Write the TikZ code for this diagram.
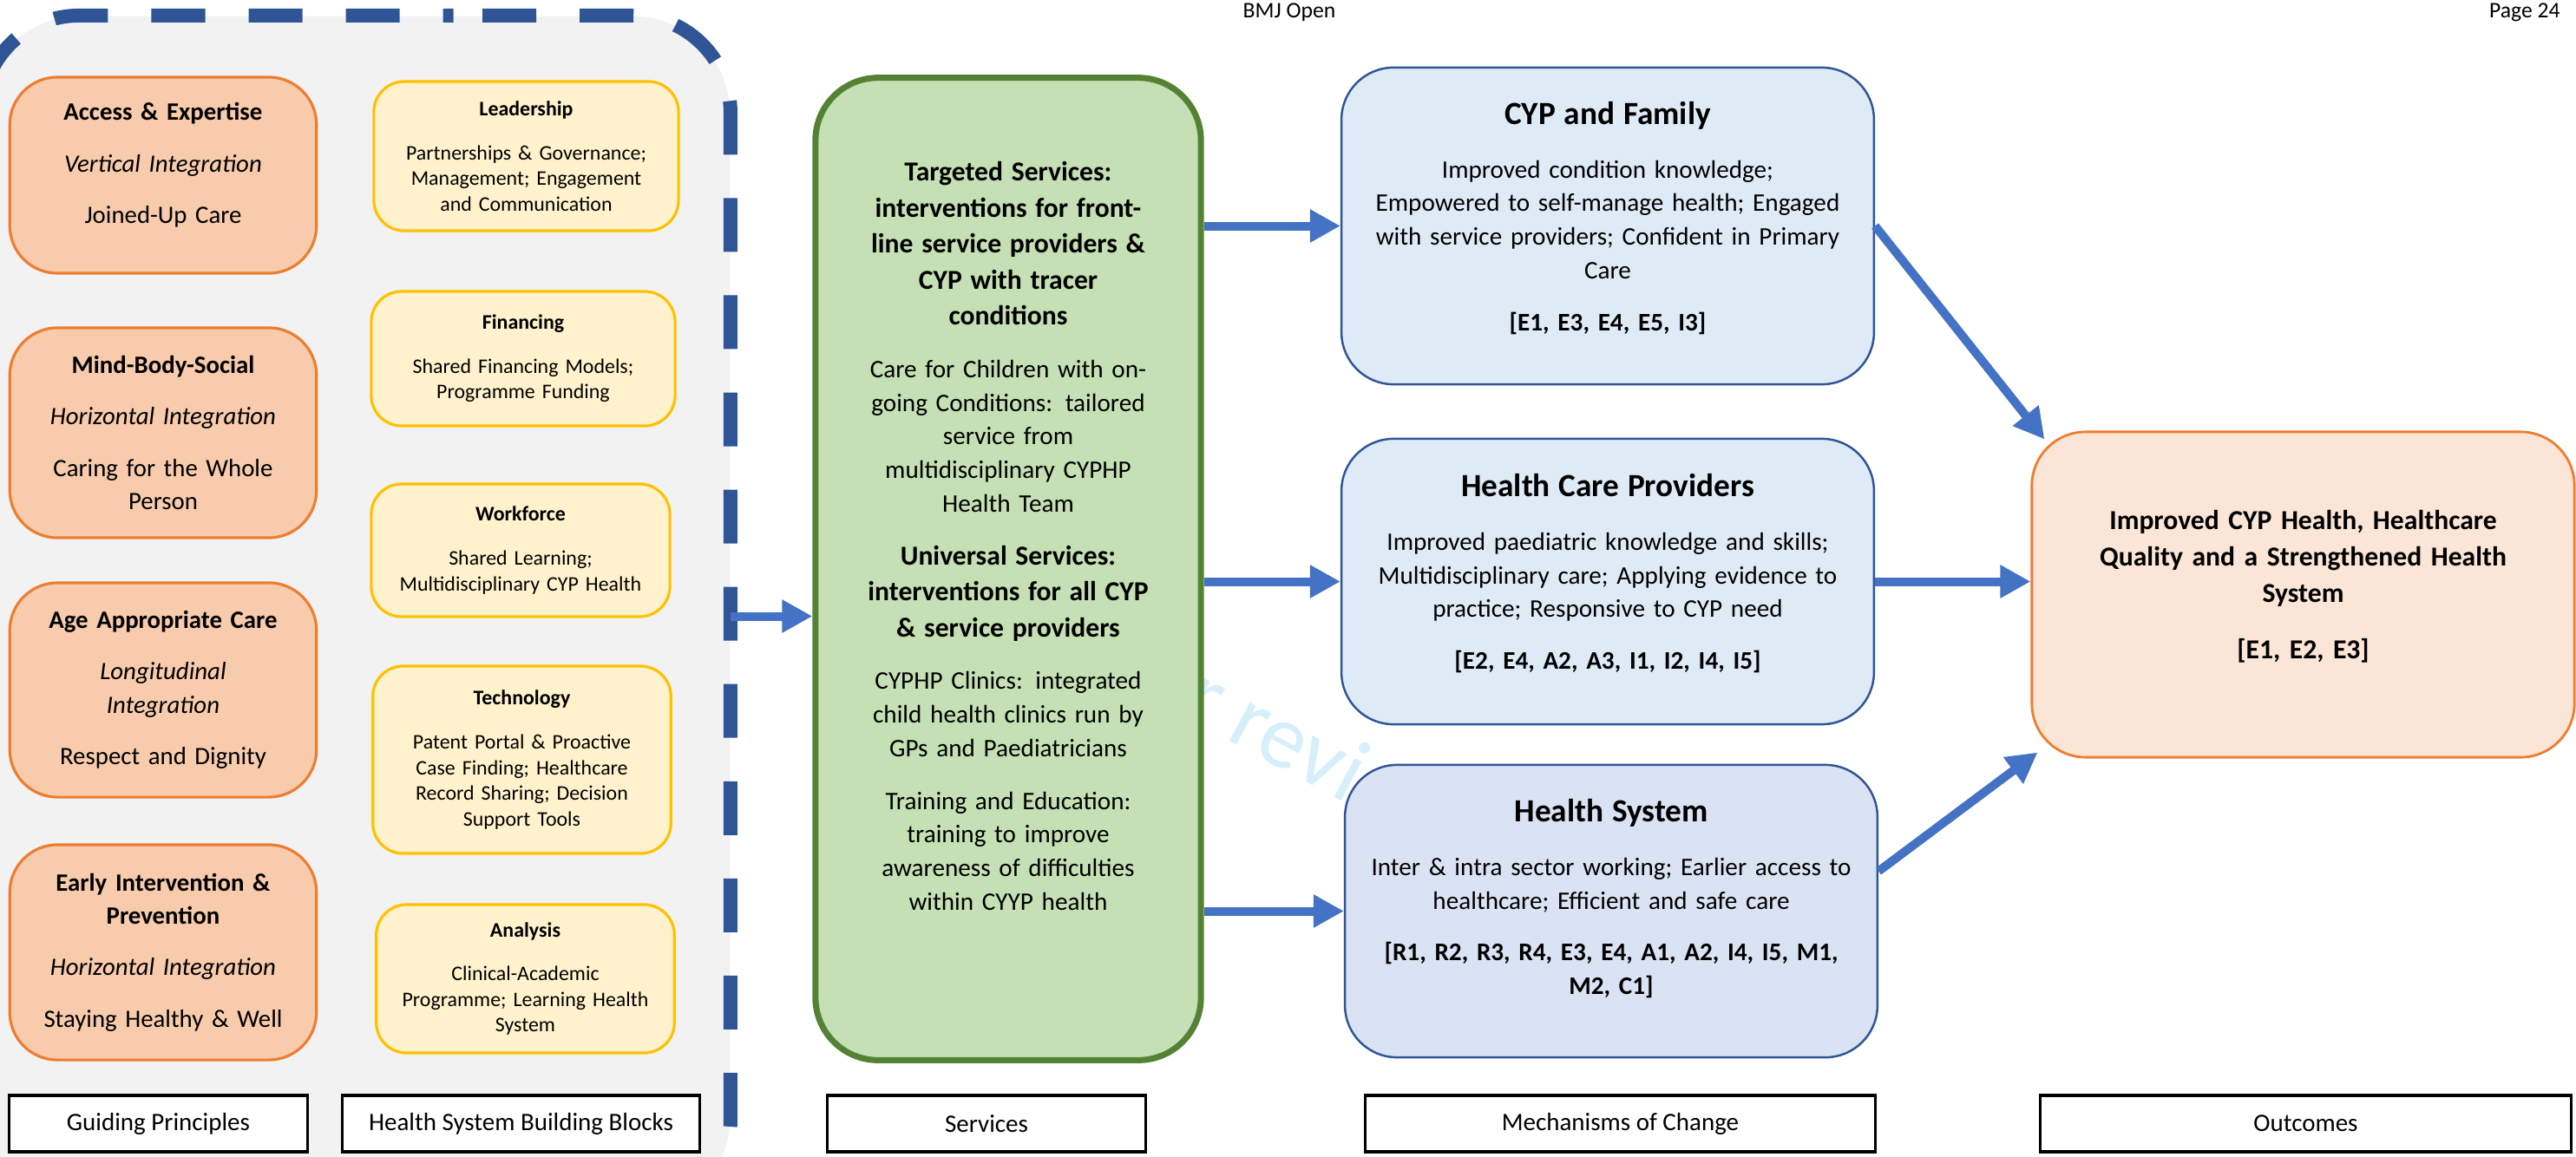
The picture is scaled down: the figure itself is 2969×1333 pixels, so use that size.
\documentclass[tikz,border=0pt]{standalone}
\usepackage{fontspec}
\setmainfont{Carlito}
\usepackage{tikz}
\usetikzlibrary{arrows.meta}

\definecolor{framegrey}{HTML}{F2F2F2}
\definecolor{framedash}{HTML}{2F5597}
\definecolor{prinfill}{HTML}{F8CBAD}
\definecolor{prinline}{HTML}{ED7D31}
\definecolor{blockfill}{HTML}{FFF2CC}
\definecolor{blockline}{HTML}{FFC000}
\definecolor{servfill}{HTML}{C5E0B4}
\definecolor{servline}{HTML}{548235}
\definecolor{mechfill}{HTML}{DEEBF7}
\definecolor{mechfillb}{HTML}{DAE3F3}
\definecolor{mechline}{HTML}{2F5597}
\definecolor{outfill}{HTML}{FBE5D6}
\definecolor{flowblue}{HTML}{4472C4}
\definecolor{markblue}{RGB}{214,239,251}

\begin{document}
\begin{tikzpicture}[x=0.01cm, y=-0.01cm,
	framebox/.style={fill=framegrey, rounded corners=1.12cm, inner sep=0pt, minimum width=8.61cm, minimum height=13.83cm},
	framedashed/.style={draw=framedash, line width=0.16cm, rounded corners=1.12cm, dash pattern=on 0.62cm off 0.5cm, dash phase=0.785cm},
	principle/.style={draw=prinline, fill=prinfill, line width=0.9pt, rounded corners=0.55cm, minimum width=3.48cm, text width=3.3cm, align=center, font=\fontsize{8.2}{10.9}\selectfont},
	block/.style={draw=blockline, fill=blockfill, line width=0.9pt, rounded corners=0.35cm, text width=3.2cm, align=center, font=\fontsize{6.8}{8.4}\selectfont},
	servbox/.style={draw=servline, fill=servfill, line width=2pt, rounded corners=0.72cm, minimum width=4.44cm, minimum height=11.32cm},
	servtext/.style={text width=4.2cm, align=center, inner sep=0pt, font=\fontsize{8.3}{11}\selectfont},
	mech/.style={draw=mechline, line width=0.7pt, rounded corners=0.6cm, minimum width=6.08cm, text width=5.9cm, align=center, font=\fontsize{8.3}{11}\selectfont},
	outbox/.style={draw=prinline, fill=outfill, line width=0.8pt, rounded corners=0.62cm, minimum width=6.25cm, minimum height=3.75cm, text width=5.9cm, align=center, font=\fontsize{9}{11.9}\selectfont\bfseries},
	colhead/.style={draw=black, fill=white, line width=0.9pt, minimum height=0.65cm, font=\fontsize{8.25}{10}\selectfont},
	pagehead/.style={font=\fontsize{7.3}{9}\selectfont},
	flow/.style={draw=flowblue, line width=0.1cm, -{Triangle[length=0.35cm, width=0.36cm]}}
	]
	\useasboundingbox (0,0) rectangle (2969,1333);
	
	\node (bmj) [pagehead] at (1486,14) {BMJ Open};
	\node (page) [pagehead, anchor=east] at (2963,14) {Page 24};
	
	% grey area behind the first two columns
	\node (frame) [framebox] at (410.5,710.5) {};
	\draw[framedashed] (frame.north) -- (frame.north east) -- (frame.south east) -- (frame.south west) -- (frame.north west) -- cycle;
	
	\node (mark) [text=markblue, rotate=-28, font=\fontsize{30}{36}\selectfont] at (1472,843) {r revi};
	
	% guiding principles
	\node (prin1) [principle, minimum height=2.26cm] at (188,202) {\textbf{Access \& Expertise}\\[6pt]\textit{Vertical Integration}\\[6pt]Joined-Up Care\\[-3pt]\mbox{}};
	\node (prin2) [principle, minimum height=2.42cm] at (188,499) {\textbf{Mind-Body-Social}\\[6pt]\textit{Horizontal Integration}\\[6pt]Caring for the Whole\\Person};
	\node (prin3) [principle, minimum height=2.47cm] at (188,795.5) {\textbf{Age Appropriate Care}\\[6pt]\textit{Longitudinal}\\\textit{Integration}\\[6pt]Respect and Dignity};
	\node (prin4) [principle, minimum height=2.48cm] at (188,1098) {\textbf{Early Intervention \&}\\\textbf{Prevention}\\[6pt]\textit{Horizontal Integration}\\[6pt]Staying Healthy \& Well};
	
	% building blocks
	\node (block1) [block, minimum width=3.51cm, minimum height=1.72cm] at (606.5,180) {\textbf{Leadership}\\[6pt]Partnerships \& Governance;\\Management; Engagement\\and Communication};
	\node (block2) [block, minimum width=3.50cm, minimum height=1.55cm] at (603,413.5) {\textbf{Financing}\\[6pt]Shared Financing Models;\\Programme Funding};
	\node (block3) [block, minimum width=3.44cm, minimum height=1.53cm] at (600,634.5) {\textbf{Workforce}\\[6pt]Shared Learning;\\Multidisciplinary CYP Health};
	\node (block4) [block, minimum width=3.33cm, minimum height=2.16cm] at (601.5,876) {\textbf{Technology}\\[6pt]Patent Portal \& Proactive\\Case Finding; Healthcare\\Record Sharing; Decision\\Support Tools};
	\node (block5) [block, minimum width=3.41cm, minimum height=1.71cm] at (605.5,1128.5) {\textbf{Analysis}\\[6pt]Clinical-Academic\\Programme; Learning Health\\System};
	
	% services
	\node (serv) [servbox] at (1162,656) {};
	\node (servtext) [servtext] at ([yshift=0.38cm]serv.center) {%
		{\fontsize{9}{11.8}\selectfont\bfseries Targeted Services:\\interventions for front-\\line service providers \&\\CYP with tracer\\conditions\par}
		\vspace{6.3pt}
		Care for Children with on-\\going Conditions: tailored\\service from\\multidisciplinary CYPHP\\Health Team\par
		\vspace{5.5pt}
		{\fontsize{9}{11.8}\selectfont\bfseries Universal Services:\\interventions for all CYP\\\& service providers\par}
		\vspace{6.3pt}
		CYPHP Clinics: integrated\\child health clinics run by\\GPs and Paediatricians\par
		\vspace{6.3pt}
		Training and Education:\\training to improve\\awareness of difficulties\\within CYYP health\par};
	
	% mechanisms of change
	\node (mech1) [mech, fill=mechfill, minimum height=3.65cm] at (1853,260.5) {{\fontsize{10.6}{13}\selectfont\bfseries CYP and Family}\\[6.6pt]Improved condition knowledge;\\Empowered to self-manage health; Engaged\\with service providers; Confident in Primary\\Care\\[6pt]\textbf{[E1, E3, E4, E5, I3]}\\[-4.5pt]\mbox{}};
	\node (mech2) [mech, fill=mechfill, minimum height=3.29cm] at (1853,670.5) {{\fontsize{10.6}{13}\selectfont\bfseries Health Care Providers}\\[6.6pt]Improved paediatric knowledge and skills;\\Multidisciplinary care; Applying evidence to\\practice; Responsive to CYP need\\[6pt]\textbf{[E2, E4, A2, A3, I1, I2, I4, I5]}\\[-4.5pt]\mbox{}};
	\node (mech3) [mech, fill=mechfillb, minimum height=3.37cm] at (1857,1050.5) {{\fontsize{10.6}{13}\selectfont\bfseries Health System}\\[6.6pt]Inter \& intra sector working; Earlier access to\\healthcare; Efficient and safe care\\[6pt]\textbf{[R1, R2, R3, R4, E3, E4, A1, A2, I4, I5, M1,}\\\textbf{M2, C1]}\\[-1.6pt]\mbox{}};
	
	% outcomes
	\node (outc) [outbox] at (2654.5,685.5) {Improved CYP Health, Healthcare\\Quality and a Strengthened Health\\System\\[6.5pt]{[E1, E2, E3]}\\[-5.4pt]\mbox{}};
	
	% column headings
	\node (lab1) [colhead, minimum width=3.43cm] at (182.5,1295.5) {Guiding Principles};
	\node (lab2) [colhead, minimum width=4.11cm] at (600.5,1295.5) {Health System Building Blocks};
	\node (lab3) [colhead, minimum width=3.66cm] at (1137,1295.5) {Services};
	\node (lab4) [colhead, minimum width=5.87cm] at (1867.5,1295.5) {Mechanisms of Change};
	\node (lab5) [colhead, minimum width=6.11cm] at (2657.5,1295.5) {Outcomes};
	
	% Arrows
	\draw[flow] (frame.east) -- (frame.east -| serv.west);
	\draw[flow] (serv.east |- mech1.west) -- (mech1.west);
	\draw[flow] (serv.east |- mech2.west) -- (mech2.west);
	\draw[flow] (serv.east |- mech3.west) -- (mech3.west);
	\draw[flow] (mech1.east) -- ([xshift=0.16cm, yshift=-0.1cm]outc.north west);
	\draw[flow] (mech2.east) -- (mech2.east -| outc.west);
	\draw[flow] ([yshift=0.46cm]mech3.east) -- ([xshift=0.08cm, yshift=0.07cm]outc.south west);
	
\end{tikzpicture}
\end{document}
